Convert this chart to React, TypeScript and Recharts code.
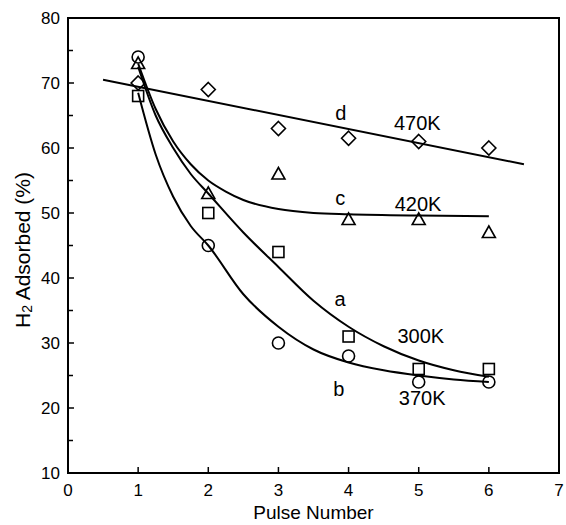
import React from 'react';
import { ComposedChart, XAxis, YAxis, Line, Scatter, ReferenceArea } from 'recharts';

// Measured points (Pulse Number vs H2 adsorbed %)
const pulses = [1, 2, 3, 4, 5, 6];
const circles370K = [74, 45, 30, 28, 24, 24];
const squares300K = [68, 50, 44, 31, 26, 26];
const triangles420K = [73, 53, 56, 49, 49, 47];
const diamonds470K = [70, 69, 63, 61.5, 61, 60];

// Fitted curves
const curveAX = [1, 1.25, 1.5, 1.75, 2, 2.5, 3, 3.5, 4, 4.5, 5, 5.5, 6];
const curveAY = [72.5, 65, 60, 56, 53, 47, 41.7, 36.5, 32.5, 29.5, 27.3, 25.8, 24.8];
const curveBX = [1, 1.25, 1.5, 1.75, 2, 2.5, 3, 3.5, 4, 4.5, 5, 5.5, 6];
const curveBY = [68.5, 59, 52.5, 48, 45, 37.5, 32.5, 29, 27, 25.8, 25, 24.4, 24];
const curveCX = [1, 1.25, 1.5, 1.75, 2, 2.25, 2.5, 3, 3.5, 4, 5, 6];
const curveCY = [73, 66, 61, 57.5, 55, 53.3, 52, 50.6, 50, 49.8, 49.6, 49.5];
const curveDX = [0.5, 6.5];
const curveDY = [70.5, 57.5];

const labelTexts = ['d', '470K', 'c', '420K', 'a', '300K', 'b', '370K'];
const labelX = [3.89, 4.98, 3.88, 4.99, 3.88, 5.03, 3.86, 5.05];
const labelY = [65.4, 63.8, 52.3, 51.4, 36.8, 31.1, 22.9, 21.5];

const xTicks = [0, 1, 2, 3, 4, 5, 6, 7];
const yTicks = [10, 15, 20, 25, 30, 35, 40, 45, 50, 55, 60, 65, 70, 75, 80];

const FONT = "'Liberation Sans', Arial, Helvetica, sans-serif";

const toPts = (xs: number[], ys: number[]) => xs.map((x, i) => ({ x, y: ys[i] }));

const circleData = toPts(pulses, circles370K);
const squareData = toPts(pulses, squares300K);
const triangleData = toPts(pulses, triangles420K);
const diamondData = toPts(pulses, diamonds470K);
const aData = toPts(curveAX, curveAY);
const bData = toPts(curveBX, curveBY);
const cData = toPts(curveCX, curveCY);
const dData = toPts(curveDX, curveDY);
const labelData = labelTexts.map((t, i) => ({ x: labelX[i], y: labelY[i], text: t }));

const SW = 1.6;

const CircleShape = (p: any) => <circle cx={p.cx} cy={p.cy} r={6} fill="none" stroke="#000" strokeWidth={SW} />;
const SquareShape = (p: any) => <rect x={p.cx - 5.5} y={p.cy - 5.5} width={11} height={11} fill="none" stroke="#000" strokeWidth={SW} />;
const TriangleShape = (p: any) => (
  <polygon points={`${p.cx},${p.cy - 6.5} ${p.cx + 6.5},${p.cy + 5} ${p.cx - 6.5},${p.cy + 5}`} fill="none" stroke="#000" strokeWidth={SW} />
);
const DiamondShape = (p: any) => (
  <polygon points={`${p.cx},${p.cy - 7} ${p.cx + 7},${p.cy} ${p.cx},${p.cy + 7} ${p.cx - 7},${p.cy}`} fill="none" stroke="#000" strokeWidth={SW} />
);
const TextShape = (p: any) => (
  <text x={p.cx} y={p.cy} textAnchor="middle" dominantBaseline="central" fontSize={20} fontFamily={FONT} fill="#000">
    {p.payload.text}
  </text>
);

const YTick = (props: any) => {
  const { x, y, payload } = props;
  const major = payload.value % 10 === 0;
  const ax = x + 8;
  return (
    <g>
      <line x1={ax} x2={ax + (major ? 6 : 5)} y1={y} y2={y} stroke="#000" strokeWidth={1.5} />
      {major && (
        <text x={x} y={y} textAnchor="end" dominantBaseline="central" fontSize={17} fontFamily={FONT} fill="#000">
          {payload.value}
        </text>
      )}
    </g>
  );
};

const XTick = (props: any) => {
  const { x, y, payload } = props;
  const ay = y - 10;
  return (
    <g>
      <line x1={x} x2={x} y1={ay} y2={ay - 6} stroke="#000" strokeWidth={1.5} />
      <text x={x} y={ay + 17} textAnchor="middle" dominantBaseline="central" fontSize={17} fontFamily={FONT} fill="#000">
        {payload.value}
      </text>
    </g>
  );
};

const XLabel = (props: any) => {
  const vb = props.viewBox || { x: 68, y: 473, width: 491 };
  return (
    <text x={vb.x + vb.width / 2} y={vb.y + 39} textAnchor="middle" dominantBaseline="central" fontSize={19} fontFamily={FONT} fill="#000">
      Pulse Number
    </text>
  );
};

const YLabel = () => {
  const cx = 22;
  const cy = 250;
  return (
    <text transform={`translate(${cx},${cy}) rotate(-90)`} textAnchor="middle" dominantBaseline="central" fontSize={21} fontFamily={FONT} fill="#000">
      H<tspan fontSize={14} dy={5}>2</tspan>
      <tspan dy={-5}> Adsorbed (%)</tspan>
    </text>
  );
};

export default function App() {
  return (
    <div style={{ position: 'absolute', left: 0, top: 0, width: 566, height: 525, background: '#fff' }}>
      <ComposedChart width={566} height={525} margin={{ top: 18, right: 7, left: 0, bottom: 0 }}>
        <XAxis
          type="number"
          dataKey="x"
          domain={[0, 7]}
          ticks={xTicks}
          interval={0}
          allowDataOverflow
          height={52}
          tickSize={0}
          tickMargin={10}
          tick={<XTick />}
          axisLine={{ stroke: '#000', strokeWidth: 2 }}
          label={<XLabel />}
        />
        <YAxis
          type="number"
          dataKey="y"
          domain={[10, 80]}
          ticks={yTicks}
          interval={0}
          allowDataOverflow
          width={68}
          tickSize={0}
          tickMargin={8}
          tick={<YTick />}
          axisLine={{ stroke: '#000', strokeWidth: 2 }}
          label={<YLabel />}
        />
        <ReferenceArea x1={0} x2={7} y1={10} y2={80} fill="none" stroke="#000" strokeWidth={2} ifOverflow="visible" />
        <Line data={dData} dataKey="y" type="linear" stroke="#000" strokeWidth={2} dot={false} isAnimationActive={false} />
        <Line data={cData} dataKey="y" type="monotone" stroke="#000" strokeWidth={2} dot={false} isAnimationActive={false} />
        <Line data={aData} dataKey="y" type="monotone" stroke="#000" strokeWidth={2} dot={false} isAnimationActive={false} />
        <Line data={bData} dataKey="y" type="monotone" stroke="#000" strokeWidth={2} dot={false} isAnimationActive={false} />
        <Scatter data={circleData} dataKey="y" shape={CircleShape} isAnimationActive={false} />
        <Scatter data={squareData} dataKey="y" shape={SquareShape} isAnimationActive={false} />
        <Scatter data={triangleData} dataKey="y" shape={TriangleShape} isAnimationActive={false} />
        <Scatter data={diamondData} dataKey="y" shape={DiamondShape} isAnimationActive={false} />
        <Scatter data={labelData} dataKey="y" shape={TextShape} isAnimationActive={false} />
      </ComposedChart>
    </div>
  );
}
